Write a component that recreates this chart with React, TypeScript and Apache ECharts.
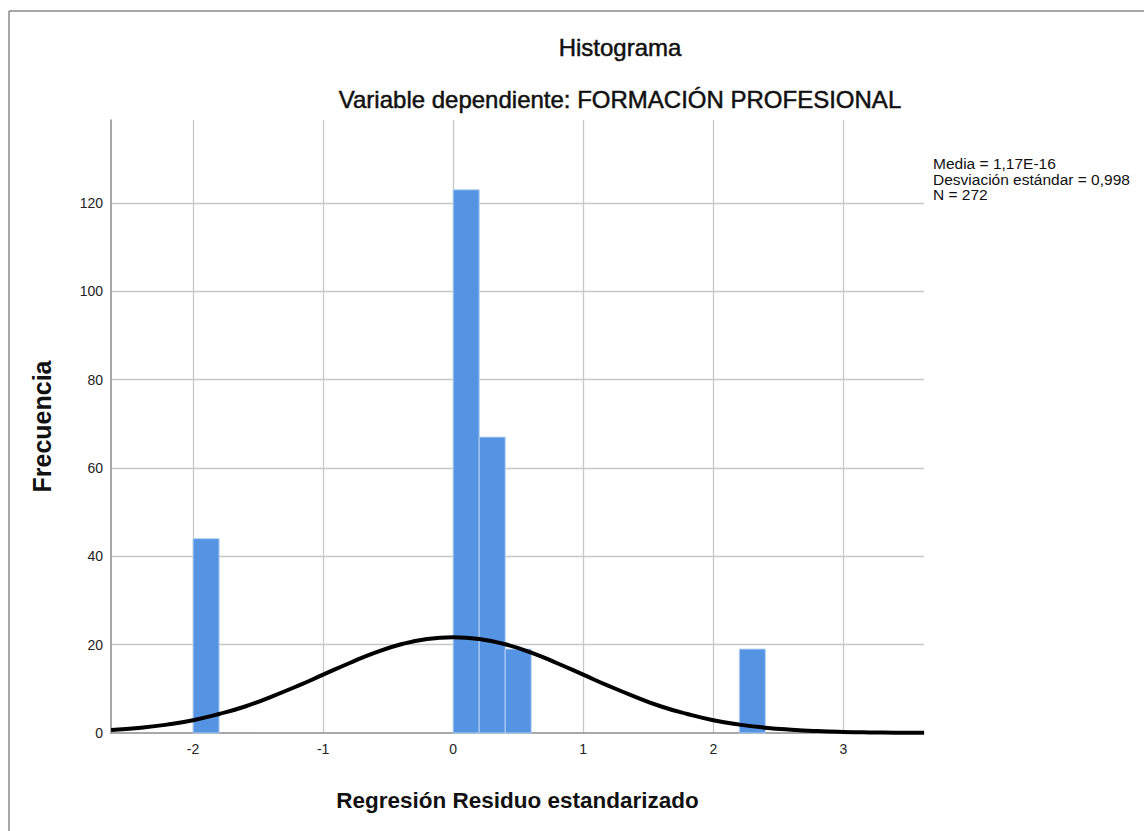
import React, { useEffect, useRef } from "react";
import * as echarts from "echarts";

// Histogram bins (standardized residual) and their frequencies
const binStarts = [-2.0, 0.0, 0.2, 0.4, 2.2];
const binEnds = [-1.8, 0.2, 0.4, 0.6, 2.4];
const frequencies = [44, 123, 67, 19, 19];

// Normal curve
const curveX = [-2.63, -2.4, -2.2, -2.0, -1.8, -1.6, -1.4, -1.2, -1.0, -0.8, -0.6, -0.4, -0.2, 0.0, 0.2, 0.4, 0.6, 0.8, 1.0, 1.2, 1.4, 1.6, 1.8, 2.0, 2.2, 2.4, 2.6, 2.8, 3.0, 3.2, 3.4, 3.62];
const curveY = [0.68, 1.2, 1.9, 2.9, 4.3, 6.0, 8.2, 10.6, 13.2, 15.8, 18.2, 20.1, 21.3, 21.7, 21.3, 20.1, 18.2, 15.8, 13.2, 10.6, 8.2, 6.0, 4.3, 2.9, 1.9, 1.2, 0.74, 0.43, 0.24, 0.13, 0.07, 0.03];

const titleText = "Histograma";
const subtitleText = "Variable dependiente: FORMACIÓN PROFESIONAL";
const statsLines = ["Media = 1,17E-16", "Desviación estándar = 0,998", "N = 272"];
const xName = "Regresión Residuo estandarizado";
const yName = "Frecuencia";

const X_MIN = -2.631;
const X_MAX = 3.62;
const Y_MAX = 138.8;

export default function App() {
  const ref = useRef<HTMLDivElement>(null);
  useEffect(() => {
    if (!ref.current) return;
    const chart = echarts.init(ref.current, null, { renderer: "svg" });
    const font = "'Liberation Sans', Arial, sans-serif";
    const barData = binStarts.map((s, i) => [s, binEnds[i], frequencies[i]]);
    const curveData = curveX.map((x, i) => [x, curveY[i]]);
    chart.setOption({
      animation: false,
      backgroundColor: "#ffffff",
      textStyle: { fontFamily: font },
      grid: { left: 111, right: 220, top: 120, bottom: 98, containLabel: false },
      xAxis: {
        type: "value",
        min: X_MIN,
        max: X_MAX,
        splitNumber: 5,
        name: xName,
        nameLocation: "middle",
        nameGap: 56,
        nameTextStyle: { fontSize: 22.5, color: "#111", fontFamily: font, fontWeight: "bold" },
        axisLine: { show: true, onZero: false, lineStyle: { color: "#8c8c8c", width: 1.5 } },
        axisTick: { show: false },
        axisLabel: {
          color: "#222",
          fontSize: 14,
          margin: 9,
          fontFamily: font,
          showMinLabel: false,
          showMaxLabel: false,
          formatter: (v: number) => (Math.abs(v - Math.round(v)) < 1e-6 ? String(Math.round(v)) : ""),
        },
        splitLine: { show: true, showMinLine: false, showMaxLine: false, lineStyle: { color: "#c8c8c8", width: 1.3 } },
      },
      yAxis: {
        type: "value",
        min: 0,
        max: Y_MAX,
        interval: 20,
        name: yName,
        nameLocation: "middle",
        nameGap: 57,
        nameTextStyle: { fontSize: 25, color: "#111", fontFamily: font, fontWeight: "bold" },
        axisLine: { show: true, onZero: false, lineStyle: { color: "#8c8c8c", width: 1.5 } },
        axisTick: { show: false },
        axisLabel: { color: "#222", fontSize: 14, margin: 8, fontFamily: font, showMaxLabel: false },
        splitLine: { show: true, showMinLine: false, showMaxLine: false, lineStyle: { color: "#c8c8c8", width: 1.3 } },
      },
      series: [
        {
          type: "custom",
          data: barData,
          encode: { x: [0, 1], y: 2 },
          z: 2,
          renderItem: (params: any, api: any) => {
            const p0 = api.coord([api.value(0), api.value(2)]);
            const p1 = api.coord([api.value(1), 0]);
            return {
              type: "rect",
              shape: { x: p0[0], y: p0[1], width: p1[0] - p0[0], height: p1[1] - p0[1] },
              style: { fill: "#5594e2", stroke: "#b4cff2", lineWidth: 1 },
            };
          },
        },
        {
          type: "line",
          data: curveData,
          smooth: true,
          symbol: "none",
          z: 3,
          lineStyle: { color: "#000000", width: 4 },
        },
      ],
      graphic: [
        { type: "line", shape: { x1: 9, y1: 11, x2: 1144, y2: 11 }, style: { stroke: "#8a8a8a", lineWidth: 1.5 } },
        { type: "line", shape: { x1: 9, y1: 11, x2: 9, y2: 831 }, style: { stroke: "#8a8a8a", lineWidth: 1.5 } },
        {
          type: "text",
          x: 620,
          y: 47,
          style: { text: titleText, fontSize: 24, fontFamily: font, fill: "#111", stroke: "#111", lineWidth: 0.5, align: "center", verticalAlign: "middle" },
        },
        {
          type: "text",
          x: 620,
          y: 99,
          style: { text: subtitleText, fontSize: 24, fontFamily: font, fill: "#111", stroke: "#111", lineWidth: 0.5, align: "center", verticalAlign: "middle" },
        },
        {
          type: "text",
          x: 933,
          y: 156,
          style: { text: statsLines.join("\n"), fontSize: 15.5, lineHeight: 15.5, fontFamily: font, fill: "#111", align: "left", verticalAlign: "top" },
        },
      ],
    });
    return () => chart.dispose();
  }, []);
  return <div ref={ref} style={{ position: "fixed", left: 0, top: 0, width: 1144, height: 831 }} />;
}
